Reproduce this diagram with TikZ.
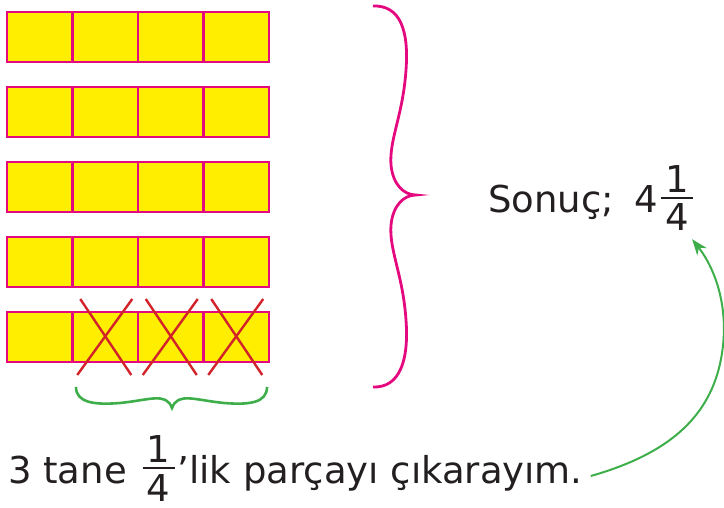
\documentclass[tikz,border=0pt]{standalone}
\usepackage{fontspec}
\setmainfont{DejaVu Sans}
\usetikzlibrary{arrows.meta}

\definecolor{sari}{HTML}{FFEE00}
\definecolor{pembe}{HTML}{E5097F}
\definecolor{kirmizi}{HTML}{D2232A}
\definecolor{yesil}{HTML}{3DAE49}
\definecolor{murekkep}{HTML}{231F20}

\newcommand\kesir[2]{\raisebox{-18pt}{\vbox{\offinterlineskip
  \hbox to 32pt{\hfil#1\hfil}\kern4pt\hbox{\rule{32pt}{2.4pt}}\kern5pt
  \hbox to 32pt{\hfil#2\hfil}}}}

\tikzset{
  hucre/.style={draw=pembe, fill=sari, line width=2.5pt, minimum width=65.5pt, minimum height=50pt, inner sep=0pt},
  carpi/.style={draw=kirmizi, line width=2.4pt},
  yazi/.style={text=murekkep, font=\fontsize{37}{44}\selectfont, inner sep=0pt, anchor=base west}
}

\begin{document}
\begin{tikzpicture}[x=1pt,y=-1pt]
\useasboundingbox (0,0) rectangle (724,508);
% bantlar
\foreach \r in {1,...,5}
  \foreach \c in {1,...,4}
    \node[hucre] (h\r\c) at ({7+65.5*(\c-0.5)}, {37+75*(\r-1)}) {};
\foreach \c in {2,3,4} {
  \draw[carpi] ([shift={(-25,-38)}]h5\c.center) -- ([shift={(26,38)}]h5\c.center);
  \draw[carpi] ([shift={(27,-38)}]h5\c.center) -- ([shift={(-28,38)}]h5\c.center);
}
% parantezler
\draw[pembe, line width=2.8pt] (373,6) .. controls (400,5) and (409,30) .. (406,70)
  .. controls (403,115) and (389,140) .. (391,165) .. controls (393,185) and (404,195) .. (416,195)
  .. controls (404,195) and (393,205) .. (391,225) .. controls (389,250) and (403,275) .. (406,320)
  .. controls (409,360) and (400,388) .. (373,387);
\draw[yesil, line width=2.6pt] (76,387) .. controls (76,403) and (95,405) .. (120,403)
  .. controls (150,400) and (166,392) .. (172,408) .. controls (178,392) and (194,400) .. (224,403)
  .. controls (249,405) and (267,403) .. (267,387);
% yazilar
\node[yazi] (sonuc) at (488,213) {Sonuç;\hspace{0.55em}4\hspace{3pt}\kesir{1}{4}};
\node[yazi] (gorev) at (8,483) {3 tane \hspace{4pt}\kesir{1}{4}\hspace{3pt}’lik parçayı çıkarayım.};
\coordinate (ucbas) at ([xshift=8pt,yshift=7pt]gorev.base east);
\coordinate (ucson) at ([xshift=-1pt,yshift=-8pt]sonuc.south east);
\draw[yesil, line width=2pt, -{Stealth[length=16pt,width=12pt]}] (ucbas)
  .. controls +(84,-24) and (722,410) .. (724,330)
  .. controls (724,290) and (710,262) .. (ucson);
\end{tikzpicture}
\end{document}
